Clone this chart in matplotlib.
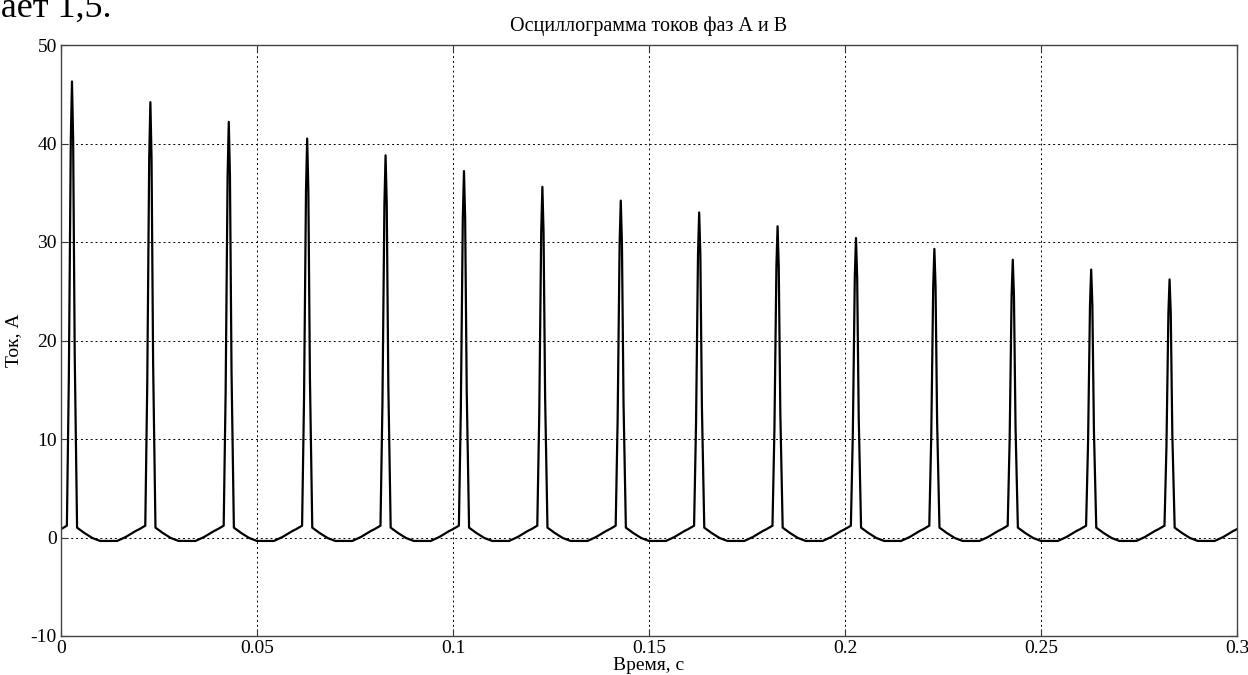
import numpy as np
import matplotlib
matplotlib.use("Agg")
import matplotlib.pyplot as plt

# ---- data ----
period = 0.02                      # s, spacing of the current pulses
n_periods = 15
peak_values = [46.3, 44.2, 42.2, 40.5, 38.8, 37.2, 35.6, 34.2,
               33.0, 31.6, 30.4, 29.3, 28.2, 27.2, 26.2]   # A

# one period: offsets from period start (s)
shape_t = [0.0000, 0.0015, 0.0020, 0.0025, 0.0028, 0.0031, 0.0035, 0.0041,
           0.0060, 0.0080, 0.0100, 0.0143, 0.0165, 0.0190]
# base current (A) outside the pulse, and pulse level as a fraction of the peak
shape_base = [0.85, 1.2, 0.0, 0.0, 0.0, 0.0, 0.0, 1.0,
              0.45, -0.05, -0.35, -0.35, 0.05, 0.65]
shape_pulse = [0.0, 0.0, 0.35, 0.87, 1.0, 0.87, 0.40, 0.0,
               0.0, 0.0, 0.0, 0.0, 0.0, 0.0]

x_ticks = [0, 0.05, 0.1, 0.15, 0.2, 0.25, 0.3]
x_tick_labels = ["0", "0.05", "0.1", "0.15", "0.2", "0.25", "0.3"]
y_ticks = [-10, 0, 10, 20, 30, 40, 50]
y_tick_labels = ["-10", "0", "10", "20", "30", "40", "50"]

title = "Осциллограмма токов фаз А и В"
x_label = "Время, с"
y_label = "Ток, А"
top_text = "ывает 1,5."

# ---- build series ----
t_all, i_all = [], []
for k in range(n_periods):
    pk = peak_values[k]
    for ts, b, p in zip(shape_t, shape_base, shape_pulse):
        t_all.append(k * period + ts)
        i_all.append(b + p * pk)
t_all.append(n_periods * period)
i_all.append(shape_base[0])

plt.rcParams['font.family'] = ['Liberation Serif', 'DejaVu Serif']

fig = plt.figure(figsize=(12.48, 6.75), dpi=100)
ax = fig.add_axes([61/1248, 1-636/675, (1237-61)/1248, (636-45)/675])

ax.plot(t_all, i_all, color='black', lw=1.6)

ax.set_xlim(0, 0.3)
ax.set_ylim(-10, 50)
ax.set_xticks(x_ticks)
ax.set_xticklabels(x_tick_labels)
ax.set_yticks(y_ticks)
ax.set_yticklabels(y_tick_labels)
ax.grid(True, color='black', linestyle=(0, (2, 3)), linewidth=0.7)
ax.tick_params(direction='in', length=5, width=0.8, colors='#333333',
               top=True, right=True, labelsize=14, pad=3, labelcolor='black')
for s in ax.spines.values():
    s.set_color('#444444')
    s.set_linewidth(1.0)

ax.set_title(title, fontsize=14.5, pad=10)
ax.set_xlabel(x_label, fontsize=14, labelpad=0)
ax.set_ylabel(y_label, fontsize=14, labelpad=6)

fig.text(111/1248, 1-17/675, top_text, ha='right', va='baseline', fontsize=26)

fig.savefig("out.png", dpi=100)
